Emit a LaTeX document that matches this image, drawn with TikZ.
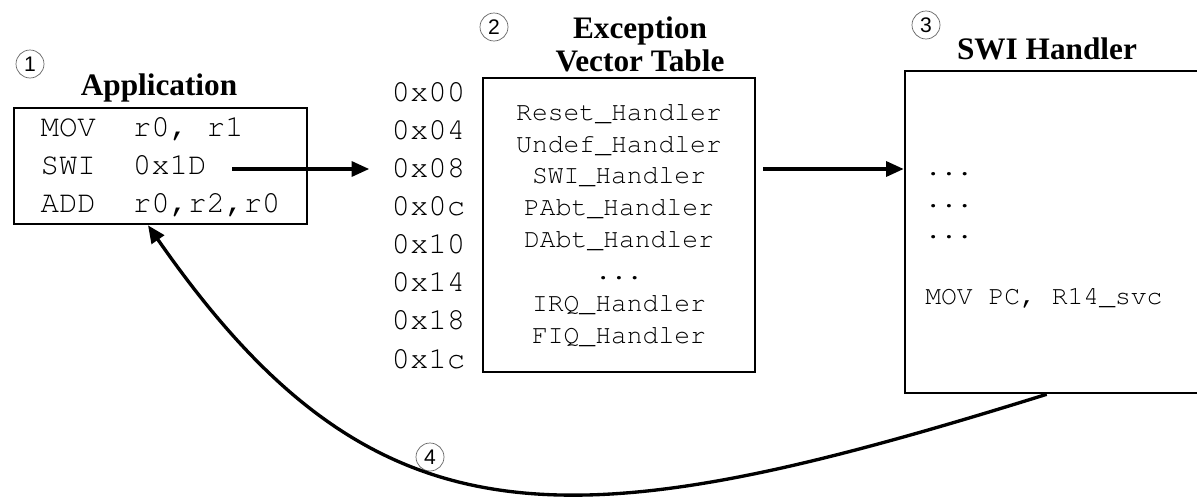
\documentclass[tikz,border=0pt]{standalone}
\usepackage[T1]{fontenc}
\usepackage{fontspec}
\setmainfont{Liberation Serif}
\newfontfamily\numfont{Liberation Sans}
\newcommand{\courier}{\fontencoding{T1}\fontfamily{pcr}\selectfont}
\usetikzlibrary{arrows.meta,positioning}

\begin{document}
\begin{tikzpicture}[
    x=0.02cm, y=-0.02cm,
    box/.style={rectangle, draw, line width=1.5pt, align=center, inner sep=0pt},
    code/.style={font=\courier\fontsize{17.5}{21.7}\selectfont},
    smallcode/.style={font=\courier\fontsize{15}{18.1}\selectfont},
    title/.style={font=\bfseries\fontsize{17.8}{18.7}\selectfont, align=center, inner sep=0pt},
    num/.style={circle, draw=black!60, thin, inner sep=0pt, minimum size=0.56cm, font=\numfont\fontsize{12}{12}\selectfont},
    arrow/.style={-{Triangle[length=10pt,width=8.5pt]}, line width=1.9pt}
]
    \useasboundingbox (0,0) rectangle (1197,497);
    \clip (0,0) rectangle (1197,497);

    % application
    \node[box, code, align=left, minimum width=5.86cm, minimum height=2.32cm] (app) at (160.5,166)
        {MOV\ \ r0, r1\\SWI\ \ 0x1D\\ADD\ \ r0,r2,r0};
    \node[title, anchor=base] (apptitle) at (159,95) {Application};
    \node[num] (n1) at (30,64) {1};
    \coordinate (swicall) at (232,169);

    % exception vector table
    \node[box, smallcode, minimum width=5.44cm, minimum height=5.88cm] (vt) at (619,225)
        {Reset\_Handler\\Undef\_Handler\\SWI\_Handler\\PAbt\_Handler\\DAbt\_Handler\\...\\IRQ\_Handler\\FIQ\_Handler};
    \node[code, align=right, inner sep=0pt, left=0.32cm of vt] (addr)
        {0x00\\0x04\\0x08\\0x0c\\0x10\\0x14\\0x18\\0x1c};
    \node[title] (vttitle) at (640,44.5) {Exception\\Vector Table};
    \node[num] (n2) at (494,27) {2};

    % swi handler
    \node[box, minimum width=7.1cm, minimum height=6.44cm] (swi) at (1082.5,232) {};
    \node[smallcode, align=left, inner sep=0pt, anchor=north west] (swibody) at (925,172)
        {...\\...\\...\\[19pt]MOV PC, R14\_svc};
    \node[title, anchor=base] (swititle) at (1047,59) {SWI Handler};
    \node[num] (n3) at (926,25) {3};

    \coordinate (ret) at ([xshift=2.86cm]swi.south west);
    \node[num] (n4) at (430,457) {4};

    \draw[arrow, shorten >=0.44cm] (swicall) -- (swicall -| addr.west);
    \draw[arrow, shorten <=0.14cm] (vt.east |- swicall) -- (swi.west |- swicall);
    \draw[arrow] (ret) .. controls (570,543) and (377,555) .. ([xshift=-0.25cm]app.south);
\end{tikzpicture}
\end{document}
